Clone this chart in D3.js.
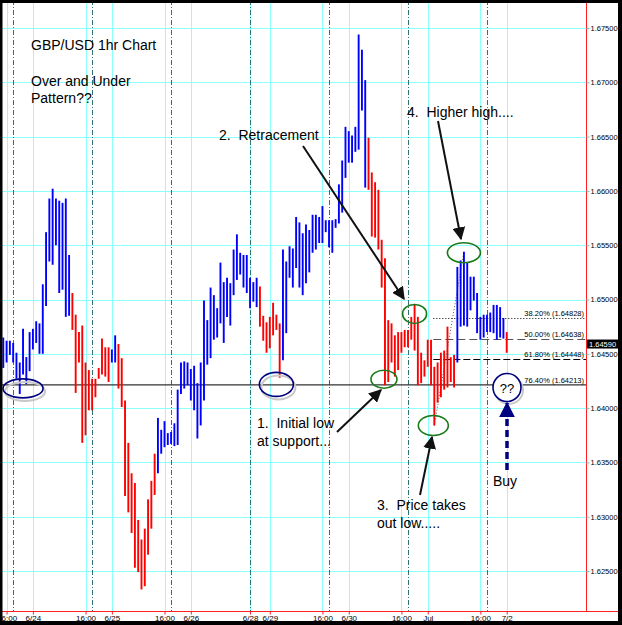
<!DOCTYPE html>
<html>
<head>
<meta charset="utf-8">
<script src="https://cdn.jsdelivr.net/npm/d3@7"></script>
<style>
  body { margin: 0; background: #fff; }
  svg text { font-family: "Liberation Sans", Arial, sans-serif; white-space: pre; }
</style>
</head>
<body>
<div id="chart"></div>
<script>
// hourly bars, GBP/USD (highs / lows)
const highs = [
  1.6465, 1.6462, 1.6462, 1.6460, 1.6451, 1.6442, 1.6473, 1.6447, 1.6470, 1.6473,
  1.6480, 1.6478, 1.6514, 1.6562, 1.6593, 1.6602, 1.6593, 1.6591, 1.6589, 1.6593,
  1.6541, 1.6506, 1.6486, 1.6470, 1.6476, 1.6442, 1.6435, 1.6427, 1.6427, 1.6437,
  1.6464, 1.6456, 1.6456, 1.6454, 1.6467, 1.6459, 1.6446, 1.6407, 1.6368, 1.6340,
  1.6331, 1.6297, 1.6279, 1.6289, 1.6316, 1.6333, 1.6358, 1.6391, 1.6380, 1.6388,
  1.6377, 1.6378, 1.6386, 1.6417, 1.6442, 1.6443, 1.6442, 1.6436, 1.6439, 1.6423,
  1.6442, 1.6499, 1.6481, 1.6511, 1.6504, 1.6492, 1.6534, 1.6516, 1.6520, 1.6515,
  1.6546, 1.6560, 1.6543, 1.6541, 1.6541, 1.6520, 1.6516, 1.6520, 1.6512, 1.6485,
  1.6479, 1.6484, 1.6497, 1.6486, 1.6478, 1.6546, 1.6535, 1.6549, 1.6547, 1.6576,
  1.6571, 1.6561, 1.6569, 1.6564, 1.6578, 1.6578, 1.6576, 1.6586, 1.6573, 1.6573,
  1.6573, 1.6574, 1.6606, 1.6628, 1.6659, 1.6655, 1.6651, 1.6659, 1.6744, 1.6730,
  1.6702, 1.6649, 1.6617, 1.6608, 1.6601, 1.6555, 1.6538, 1.6481, 1.6478, 1.6467,
  1.6470, 1.6470, 1.6472, 1.6472, 1.6484, 1.6495, 1.6484, 1.6451, 1.6444, 1.6463,
  1.6463, 1.6438, 1.6442, 1.6451, 1.6453, 1.6475, 1.6447, 1.6449, 1.6530, 1.6536,
  1.6544, 1.6534, 1.6521, 1.6521, 1.6506, 1.6484, 1.6486, 1.6486, 1.6488, 1.6495,
  1.6495, 1.6493, 1.6483, 1.6470
];
const lows = [
  1.6437, 1.6442, 1.6449, 1.6442, 1.6427, 1.6413, 1.6431, 1.6422, 1.6434, 1.6454,
  1.6460, 1.6450, 1.6450, 1.6494, 1.6535, 1.6532, 1.6550, 1.6506, 1.6509, 1.6484,
  1.6485, 1.6472, 1.6414, 1.6442, 1.6368, 1.6375, 1.6398, 1.6398, 1.6410, 1.6427,
  1.6431, 1.6429, 1.6424, 1.6442, 1.6442, 1.6418, 1.6401, 1.6319, 1.6304, 1.6285,
  1.6253, 1.6249, 1.6233, 1.6236, 1.6265, 1.6289, 1.6320, 1.6340, 1.6358, 1.6364,
  1.6366, 1.6367, 1.6365, 1.6366, 1.6413, 1.6418, 1.6421, 1.6407, 1.6398, 1.6372,
  1.6384, 1.6407, 1.6440, 1.6446, 1.6463, 1.6465, 1.6478, 1.6460, 1.6484, 1.6476,
  1.6504, 1.6518, 1.6523, 1.6511, 1.6506, 1.6492, 1.6498, 1.6493, 1.6475, 1.6462,
  1.6451, 1.6455, 1.6467, 1.6472, 1.6428, 1.6444, 1.6469, 1.6520, 1.6511, 1.6529,
  1.6511, 1.6504, 1.6515, 1.6525, 1.6543, 1.6546, 1.6552, 1.6552, 1.6562, 1.6548,
  1.6543, 1.6566, 1.6570, 1.6580, 1.6612, 1.6626, 1.6626, 1.6636, 1.6638, 1.6674,
  1.6603, 1.6601, 1.6558, 1.6557, 1.6546, 1.6511, 1.6421, 1.6424, 1.6442, 1.6429,
  1.6435, 1.6451, 1.6456, 1.6456, 1.6463, 1.6453, 1.6421, 1.6423, 1.6429, 1.6438,
  1.6421, 1.6384, 1.6405, 1.6410, 1.6417, 1.6419, 1.6424, 1.6419, 1.6442, 1.6475,
  1.6476, 1.6475, 1.6490, 1.6499, 1.6469, 1.6463, 1.6465, 1.6470, 1.6470, 1.6469,
  1.6463, 1.6465, 1.6464, 1.6451
];
// runs of bars painted blue (up trend), the rest are red
const upRuns = [[0, 20], [33, 34], [47, 77], [85, 110], [138, 152]];

// time axis: bar index of each tick and its label
const xTickIdx = [1, 9, 25, 33, 49, 57, 75, 81, 97, 105, 121, 129, 145, 153];
const xTickLbl = ["16:00", "6/24", "16:00", "6/25", "16:00", "6/26", "6/28", "6/29",
                  "16:00", "6/30", "16:00", "Jul", "16:00", "7/2"];
const sessionIdx = [3, 27, 51, 75, 99, 123, 147];

const yTicks = [1.625, 1.630, 1.635, 1.640, 1.645, 1.650, 1.655, 1.660, 1.665, 1.670, 1.675];

// fibonacci retracement of the low -> higher high swing
const fibPct = ["38.20%", "50.00%", "61.80%", "76.40%"];
const fibVal = [1.64828, 1.64638, 1.64448, 1.64213];
const swingLowIdx = 131, swingHighIdx = 140;
const lastPrice = 1.64590;

const W = 622, H = 625;
const plotRight = 586, plotBottom = 611;

const svg = d3.select('#chart')
  .append('svg')
  .attr('width', W)
  .attr('height', H)
  .style('display', 'block');

svg.append('rect').attr('width', W).attr('height', H).attr('fill', '#fff');

const x = d3.scaleLinear().domain([-1, 177.1]).range([0, plotRight]);
const y = d3.scaleLinear().domain([1.625, 1.675]).range([571, 28]);

const isUp = i => upRuns.some(r => i >= r[0] && i <= r[1]);

// grid
const grid = svg.append('g');
grid.selectAll('.hg')
  .data(yTicks)
  .enter()
  .append('line')
    .attr('x1', 0).attr('x2', plotRight)
    .attr('y1', d => Math.round(y(d)) + 0.5)
    .attr('y2', d => Math.round(y(d)) + 0.5)
    .attr('stroke', '#8cffff');
grid.selectAll('.vg')
  .data(xTickIdx)
  .enter()
  .append('line')
    .attr('x1', d => Math.round(x(d)) + 0.5)
    .attr('x2', d => Math.round(x(d)) + 0.5)
    .attr('y1', 0).attr('y2', plotBottom)
    .attr('stroke', '#8cffff');
grid.selectAll('.sess')
  .data(sessionIdx)
  .enter()
  .append('line')
    .attr('x1', d => Math.round(x(d)) + 0.5)
    .attr('x2', d => Math.round(x(d)) + 0.5)
    .attr('y1', 0).attr('y2', plotBottom)
    .attr('stroke', '#2f7373')
    .attr('stroke-dasharray', '5,2,1,2');

// support line (76.4%)
svg.append('line')
  .attr('x1', 0).attr('x2', plotRight)
  .attr('y1', y(fibVal[3])).attr('y2', y(fibVal[3]))
  .attr('stroke', '#333')
  .attr('stroke-width', 1.3);

// other fib levels
const fibDash = ['1,2', '8,4', '7,3'];
const fibColor = ['#000', '#555', '#000'];
[0, 1, 2].forEach(k => {
  svg.append('line')
    .attr('x1', x(swingLowIdx) - 1).attr('x2', plotRight)
    .attr('y1', Math.round(y(fibVal[k])) + 0.5).attr('y2', Math.round(y(fibVal[k])) + 0.5)
    .attr('stroke', fibColor[k])
    .attr('stroke-dasharray', fibDash[k]);
});
svg.append('line')
  .attr('x1', x(swingLowIdx)).attr('y1', y(lows[swingLowIdx]))
  .attr('x2', x(swingHighIdx)).attr('y2', y(highs[swingHighIdx]))
  .attr('stroke', '#555')
  .attr('stroke-dasharray', '1,2');

svg.selectAll('.fibl')
  .data(fibVal)
  .enter()
  .append('text')
    .attr('x', plotRight - 2)
    .attr('y', d => y(d) - 2)
    .attr('text-anchor', 'end')
    .style('font-size', '7.5px')
    .text((d, i) => `${fibPct[i]} (${d.toFixed(5)})`);

// price bars
svg.selectAll('.bar')
  .data(highs)
  .enter()
  .append('line')
    .attr('x1', (d, i) => x(i))
    .attr('x2', (d, i) => x(i))
    .attr('y1', d => y(d))
    .attr('y2', (d, i) => y(lows[i]))
    .attr('stroke', (d, i) => isUp(i) ? '#0000ff' : '#ff0000')
    .attr('stroke-width', 1.9);

// markers for arrows
const defs = svg.append('defs');
const mk = (id, color, size) => defs.append('marker')
  .attr('id', id)
  .attr('viewBox', '0 0 10 10')
  .attr('refX', 9).attr('refY', 5)
  .attr('markerWidth', size).attr('markerHeight', size)
  .attr('markerUnits', 'userSpaceOnUse')
  .attr('orient', 'auto')
  .append('path')
    .attr('d', 'M0,0 L10,5 L0,10 z')
    .attr('fill', color);
mk('ah', '#111', 13);
mk('ahb', '#000080', 16);

const arrow = (x1, y1, x2, y2) => svg.append('line')
  .attr('x1', x1).attr('y1', y1).attr('x2', x2).attr('y2', y2)
  .attr('stroke', '#111')
  .attr('stroke-width', 2)
  .attr('marker-end', 'url(#ah)');

// ellipses
const ell = (cx, cy, rx, ry, color, shadow) => {
  if (shadow) {
    svg.append('ellipse')
      .attr('cx', cx + 2).attr('cy', cy + 3).attr('rx', rx).attr('ry', ry)
      .attr('fill', 'none').attr('stroke', '#c8c8c8').attr('stroke-width', 2);
  }
  return svg.append('ellipse')
    .attr('cx', cx).attr('cy', cy).attr('rx', rx).attr('ry', ry)
    .attr('fill', 'none').attr('stroke', color).attr('stroke-width', 1.6);
};
ell(x(6), y(1.6420) + 2, 20, 9.5, '#000080', true);
ell(x(83), y(1.6420) - 2, 17, 12, '#000080', true);
ell(x(116) - 1, y(lows[116]) - 6, 13, 9, '#1a7a1a', false);
ell(x(125), y(highs[125]) + 9, 12, 9.5, '#1a7a1a', false);
ell(x(swingLowIdx) - 1, y(lows[swingLowIdx]), 15, 10, '#1a7a1a', false);
ell(x(swingHighIdx), y(highs[swingHighIdx]) + 1, 16.5, 10, '#1a7a1a', false);

// "??" circle
svg.append('ellipse')
  .attr('cx', 509).attr('cy', 390).attr('rx', 14).attr('ry', 14)
  .attr('fill', 'none').attr('stroke', '#c8c8c8').attr('stroke-width', 2);
svg.append('circle')
  .attr('cx', 507).attr('cy', 387.5).attr('r', 14)
  .attr('fill', '#fff').attr('stroke', '#000080').attr('stroke-width', 1.6);
svg.append('text')
  .attr('x', 507).attr('y', 392.5)
  .attr('text-anchor', 'middle')
  .style('font-size', '13px')
  .text('??');

// arrows
arrow(303, 146, 404, 299);
arrow(438, 121, 461, 239);
arrow(337, 432, 381, 390);
arrow(420, 495, 432, 437);
svg.append('line')
  .attr('x1', 507).attr('y1', 470).attr('x2', 507).attr('y2', 403)
  .attr('stroke', '#000080')
  .attr('stroke-width', 3.5)
  .attr('stroke-dasharray', '7,4')
  .attr('marker-end', 'url(#ahb)');

// annotation text
const note = (tx, ty, s) => svg.append('text')
  .attr('x', tx).attr('y', ty)
  .style('font-size', '14px')
  .attr('fill', '#000')
  .text(s);
note(31, 50, 'GBP/USD 1hr Chart');
note(31, 86, 'Over and Under');
note(31, 102.5, 'Pattern??');
note(219, 140, '2.  Retracement');
note(407, 117, '4.  Higher high....');
note(257, 428, '1.  Initial low');
note(257, 446, 'at support...');
note(377, 510, '3.  Price takes');
note(377, 528, 'out low.....');
note(493, 486, 'Buy');

// axes
svg.append('line')
  .attr('x1', plotRight + 0.5).attr('x2', plotRight + 0.5)
  .attr('y1', 0).attr('y2', plotBottom)
  .attr('stroke', '#ff2020');
svg.append('line')
  .attr('x1', 0).attr('x2', W)
  .attr('y1', plotBottom + 0.5).attr('y2', plotBottom + 0.5)
  .attr('stroke', '#ff2020');

const yAxis = d3.axisRight(y)
  .tickValues(yTicks)
  .tickSize(3)
  .tickPadding(1)
  .tickFormat(d3.format('.5f'));
svg.append('g')
  .attr('transform', `translate(${plotRight + 0.5},0)`)
  .call(yAxis)
  .call(g => g.select('.domain').remove())
  .call(g => g.selectAll('line').attr('stroke', '#70c8c8'))
  .call(g => g.selectAll('text')
    .style('font-size', '7.5px')
    .style('font-family', '"Liberation Sans", Arial, sans-serif')
    .attr('fill', '#000'));

const xAxis = d3.axisBottom(x)
  .tickValues(xTickIdx)
  .tickSize(3)
  .tickPadding(1)
  .tickFormat((d, i) => xTickLbl[i]);
svg.append('g')
  .attr('transform', `translate(0,${plotBottom + 0.5})`)
  .call(xAxis)
  .call(g => g.select('.domain').remove())
  .call(g => g.selectAll('line').attr('stroke', '#ff2020'))
  .call(g => g.selectAll('text')
    .style('font-size', '8px')
    .style('font-family', '"Liberation Sans", Arial, sans-serif')
    .attr('fill', '#000'));

// last price tag
svg.append('rect')
  .attr('x', plotRight + 1).attr('y', y(lastPrice) - 4.5)
  .attr('width', 33).attr('height', 9)
  .attr('fill', '#000');
svg.append('text')
  .attr('x', plotRight + 3).attr('y', y(lastPrice) + 3)
  .style('font-size', '7.5px')
  .attr('fill', '#fff')
  .text(lastPrice.toFixed(5));

// frame
svg.append('rect').attr('x', 0).attr('y', 0).attr('width', W).attr('height', 3).attr('fill', '#000');
svg.append('rect').attr('x', 0).attr('y', 0).attr('width', 2.5).attr('height', H).attr('fill', '#000');
svg.append('rect').attr('x', W - 4).attr('y', 0).attr('width', 4).attr('height', H).attr('fill', '#000');
svg.append('rect').attr('x', 0).attr('y', H - 4).attr('width', W).attr('height', 4).attr('fill', '#000');
</script>
</body>
</html>
